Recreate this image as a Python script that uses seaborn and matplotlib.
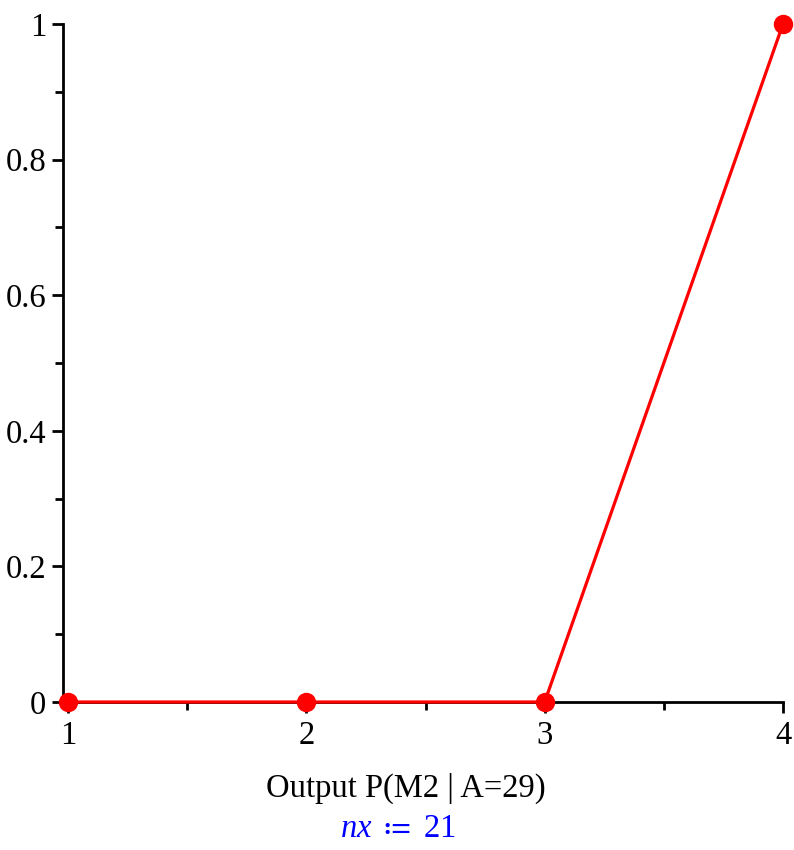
import matplotlib
matplotlib.use("Agg")
import matplotlib.pyplot as plt
import seaborn as sns
import pandas as pd
from matplotlib.ticker import MultipleLocator, FixedLocator

outputs = [1, 2, 3, 4]
probability = [0, 0, 0, 1]
x_label = "Output P(M2 | A=29)"
y_tick_labels = ["0", "0.2", "0.4", "0.6", "0.8", "1"]

sns.set_style("white")
plt.rcParams["font.family"] = ["Liberation Serif", "DejaVu Serif"]
plt.rcParams["mathtext.fontset"] = "custom"
plt.rcParams["mathtext.rm"] = "Liberation Serif"
plt.rcParams["mathtext.it"] = "Liberation Serif:italic"
plt.rcParams["mathtext.fallback"] = "stix"

df = pd.DataFrame({"output": outputs, "p": probability})

fig = plt.figure(figsize=(7.94, 8.5), dpi=100)
ax = fig.add_axes([63 / 794, 148 / 850, 720 / 794, 678 / 850])

sns.lineplot(data=df, x="output", y="p", ax=ax, color="#ff0000", linewidth=2.3,
             marker="o", markersize=14, markeredgewidth=0, clip_on=False, zorder=3)

ax.set_xlim(0.979, 4)
ax.set_ylim(0, 1)

for s in ["top", "right"]:
    ax.spines[s].set_visible(False)
for s in ["left", "bottom"]:
    ax.spines[s].set_color("black")
    ax.spines[s].set_linewidth(2.0)
    ax.spines[s].set_zorder(2)

ax.xaxis.set_major_locator(FixedLocator(outputs))
ax.xaxis.set_minor_locator(FixedLocator([1.5, 2.5, 3.5]))
ax.yaxis.set_major_locator(FixedLocator([0, 0.2, 0.4, 0.6, 0.8, 1.0]))
ax.yaxis.set_minor_locator(MultipleLocator(0.1))
ax.set_yticklabels(y_tick_labels)
ax.set_xticklabels([str(v) for v in outputs])

ax.tick_params(axis="both", which="both", direction="out", color="black",
               width=2.0, labelsize=23.5, labelcolor="black",
               bottom=True, left=True, top=False, right=False)
ax.tick_params(axis="both", which="major", length=8, pad=5)
ax.tick_params(axis="both", which="minor", length=6)
ax.tick_params(axis="y", which="major", pad=4)

ax.set_xlabel(x_label, fontsize=23.5, color="black")
ax.xaxis.set_label_coords((406 - 63) / 720, -0.105)
ax.set_ylabel("")

fig.text(398 / 794, 1 - 829 / 850, r"$nx\ \coloneq$ 21", color="#0000ff",
         fontsize=23.5, ha="center", va="center")

fig.savefig("out.png", dpi=100)
